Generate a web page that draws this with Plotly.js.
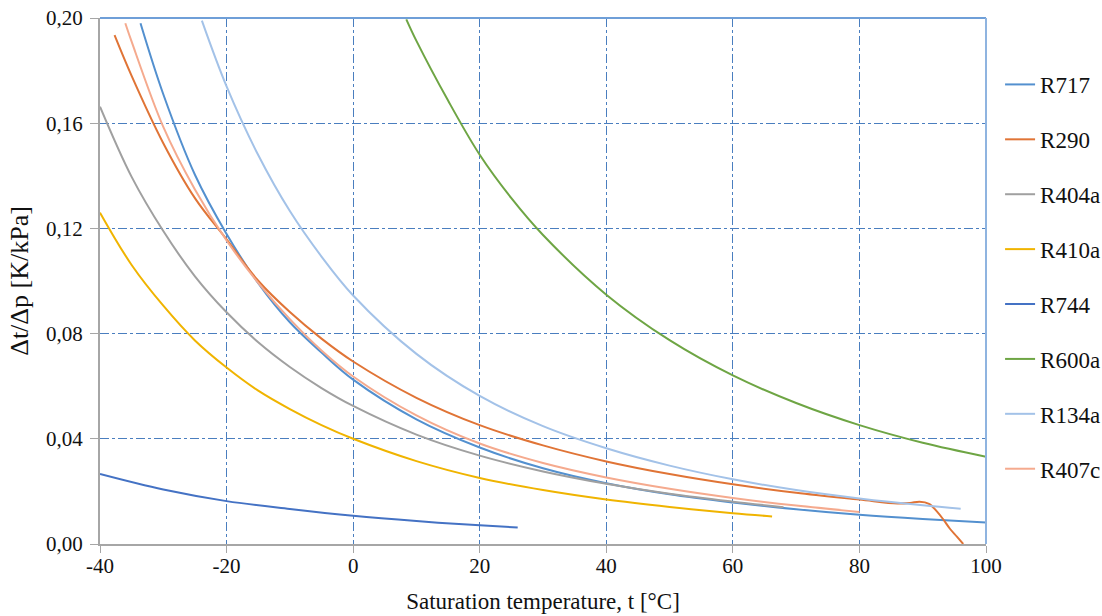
<!DOCTYPE html>
<html><head><meta charset="utf-8">
<script src="https://cdn.plot.ly/plotly-3.0.1.min.js"></script>
<style>html,body{margin:0;padding:0;background:#fff}#chart{width:1102px;height:616px}</style>
</head><body><div id="chart"></div>
<script>
// Saturation temperature [°C] and Δt/Δp [K/kPa]
const t_R717 = [-33.6, -30, -25, -20, -15, -10, -5, 0, 10, 20, 30, 40, 50, 60, 70, 80, 90, 100];
const v_R717 = [0.198, 0.171, 0.1404, 0.1179, 0.0992, 0.0843, 0.0728, 0.0625, 0.0474, 0.0367, 0.0288, 0.0231, 0.0189, 0.0158, 0.0132, 0.0111, 0.0095, 0.0082];

const t_R290 = [-37.7, -35, -30, -25, -20, -15, -10, -5, 0, 10, 20, 30, 40, 50, 60, 70, 80, 86, 88, 89.5, 91, 92.2, 93.2, 94.3, 95.4, 96.4];
const v_R290 = [0.1935, 0.178, 0.1524, 0.1315, 0.1158, 0.1001, 0.0882, 0.0781, 0.0694, 0.0556, 0.0452, 0.0375, 0.0314, 0.0266, 0.0227, 0.0195, 0.0169, 0.0154, 0.0156, 0.0161, 0.0153, 0.0125, 0.0095, 0.0058, 0.0028, 0.0];

const t_R404a = [-40, -35, -30, -25, -20, -15, -10, -5, 0, 10, 20, 30, 40, 50, 60, 68];
const v_R404a = [0.1663, 0.1396, 0.119, 0.1018, 0.0881, 0.0767, 0.0673, 0.0593, 0.0525, 0.0416, 0.0336, 0.0276, 0.0229, 0.0191, 0.0161, 0.0140];

const t_R410a = [-40, -35, -30, -25, -20, -15, -10, -5, 0, 10, 20, 30, 40, 50, 60, 66.2];
const v_R410a = [0.126, 0.1061, 0.0906, 0.0774, 0.0671, 0.0583, 0.0513, 0.0452, 0.0400, 0.0315, 0.0251, 0.0205, 0.0169, 0.0141, 0.0117, 0.0105];

const t_R744 = [-40, -30, -20, -10, 0, 10, 20, 26];
const v_R744 = [0.0266, 0.0207, 0.0163, 0.0133, 0.0107, 0.0087, 0.0071, 0.0063];

const t_R600a = [8.4, 10, 15, 20, 25, 30, 40, 50, 60, 70, 80, 90, 100];
const v_R600a = [0.1995, 0.1913, 0.1686, 0.148, 0.1315, 0.1175, 0.0948, 0.0775, 0.0641, 0.0536, 0.0452, 0.0385, 0.0332];

const t_R134a = [-23.9, -20, -15, -10, -5, 0, 10, 20, 30, 40, 50, 60, 70, 80, 90, 96];
const v_R134a = [0.199, 0.174, 0.1479, 0.1266, 0.1093, 0.0945, 0.0723, 0.0563, 0.0448, 0.0364, 0.0298, 0.0246, 0.0205, 0.0173, 0.0147, 0.0134];

const t_R407c = [-36, -35, -30, -25, -20, -15, -10, -5, 0, 10, 20, 30, 40, 50, 60, 70, 80];
const v_R407c = [0.198, 0.191, 0.1586, 0.1348, 0.1154, 0.0993, 0.0855, 0.0736, 0.0637, 0.0489, 0.0382, 0.0308, 0.0253, 0.0210, 0.0175, 0.0146, 0.0122];

const seriesNames = ['R717', 'R290', 'R404a', 'R410a', 'R744', 'R600a', 'R134a', 'R407c'];
const seriesT = [t_R717, t_R290, t_R404a, t_R410a, t_R744, t_R600a, t_R134a, t_R407c];
const seriesV = [v_R717, v_R290, v_R404a, v_R410a, v_R744, v_R600a, v_R134a, v_R407c];
const seriesColors = ['#5390cf', '#e07436', '#a0a0a0', '#f0b400', '#4472c4', '#6ea544', '#a3c2e8', '#f5aa8e'];

const xTickVals = [-40, -20, 0, 20, 40, 60, 80, 100];
const xTickText = ['-40', '-20', '0', '20', '40', '60', '80', '100'];

const FONT = 'Liberation Serif';
const traces = seriesNames.map((n, i) => ({
  type: 'scatter', mode: 'lines', name: n, legendgroup: n,
  x: seriesT[i], y: seriesV[i],
  line: {color: seriesColors[i], width: 2, shape: 'spline', smoothing: 1}
}));

const gridColor = '#4a7ebf';
const gridDash = '9px,3px,3px,3px';
const layout = {
  width: 1102, height: 616,
  margin: {l: 100, r: 116, t: 18, b: 72},
  paper_bgcolor: '#ffffff', plot_bgcolor: '#ffffff',
  separators: ', ',
  showlegend: true,
  legend: {
    xref: 'container', yref: 'paper',
    x: 0.9075, xanchor: 'left', y: 0.9145, yanchor: 'top',
    font: {family: FONT, size: 23, color: '#111'},
    tracegroupgap: 22, itemwidth: 30, bgcolor: 'rgba(0,0,0,0)'
  },
  xaxis: {
    range: [-40, 100], tickmode: 'array', tickvals: xTickVals, ticktext: xTickText,
    showgrid: true, gridcolor: gridColor, griddash: gridDash, gridwidth: 1,
    showline: true, linecolor: '#a6a6a6', linewidth: 2,
    ticks: 'outside', ticklen: 7, tickcolor: '#a6a6a6', tickwidth: 1,
    ticklabelstandoff: -5,
    zeroline: false,
    tickfont: {family: FONT, size: 21, color: '#111'},
    title: {text: 'Saturation temperature, t [°C]', font: {family: FONT, size: 23, color: '#111'}, standoff: 16}
  },
  yaxis: {
    range: [0, 0.2], tick0: 0, dtick: 0.04, tickformat: '.2f',
    showgrid: true, gridcolor: gridColor, griddash: gridDash, gridwidth: 1,
    showline: true, linecolor: '#a6a6a6', linewidth: 2,
    ticks: 'outside', ticklen: 8, tickcolor: '#a6a6a6', tickwidth: 1,
    ticklabelstandoff: 3,
    zeroline: false,
    tickfont: {family: FONT, size: 21, color: '#111'},
    title: {text: 'Δt/Δp [K/kPa]', font: {family: FONT, size: 26, color: '#111'}, standoff: 10}
  },
  shapes: [
    {type: 'line', xref: 'paper', yref: 'paper', x0: 0, x1: 1, y0: 1, y1: 1, line: {color: '#6f9fd8', width: 2}},
    {type: 'line', xref: 'paper', yref: 'paper', x0: 1, x1: 1, y0: 0, y1: 1, line: {color: '#8fb4e0', width: 2}}
  ]
};

Plotly.newPlot('chart', traces, layout, {staticPlot: true, displayModeBar: false});
</script></body></html>
